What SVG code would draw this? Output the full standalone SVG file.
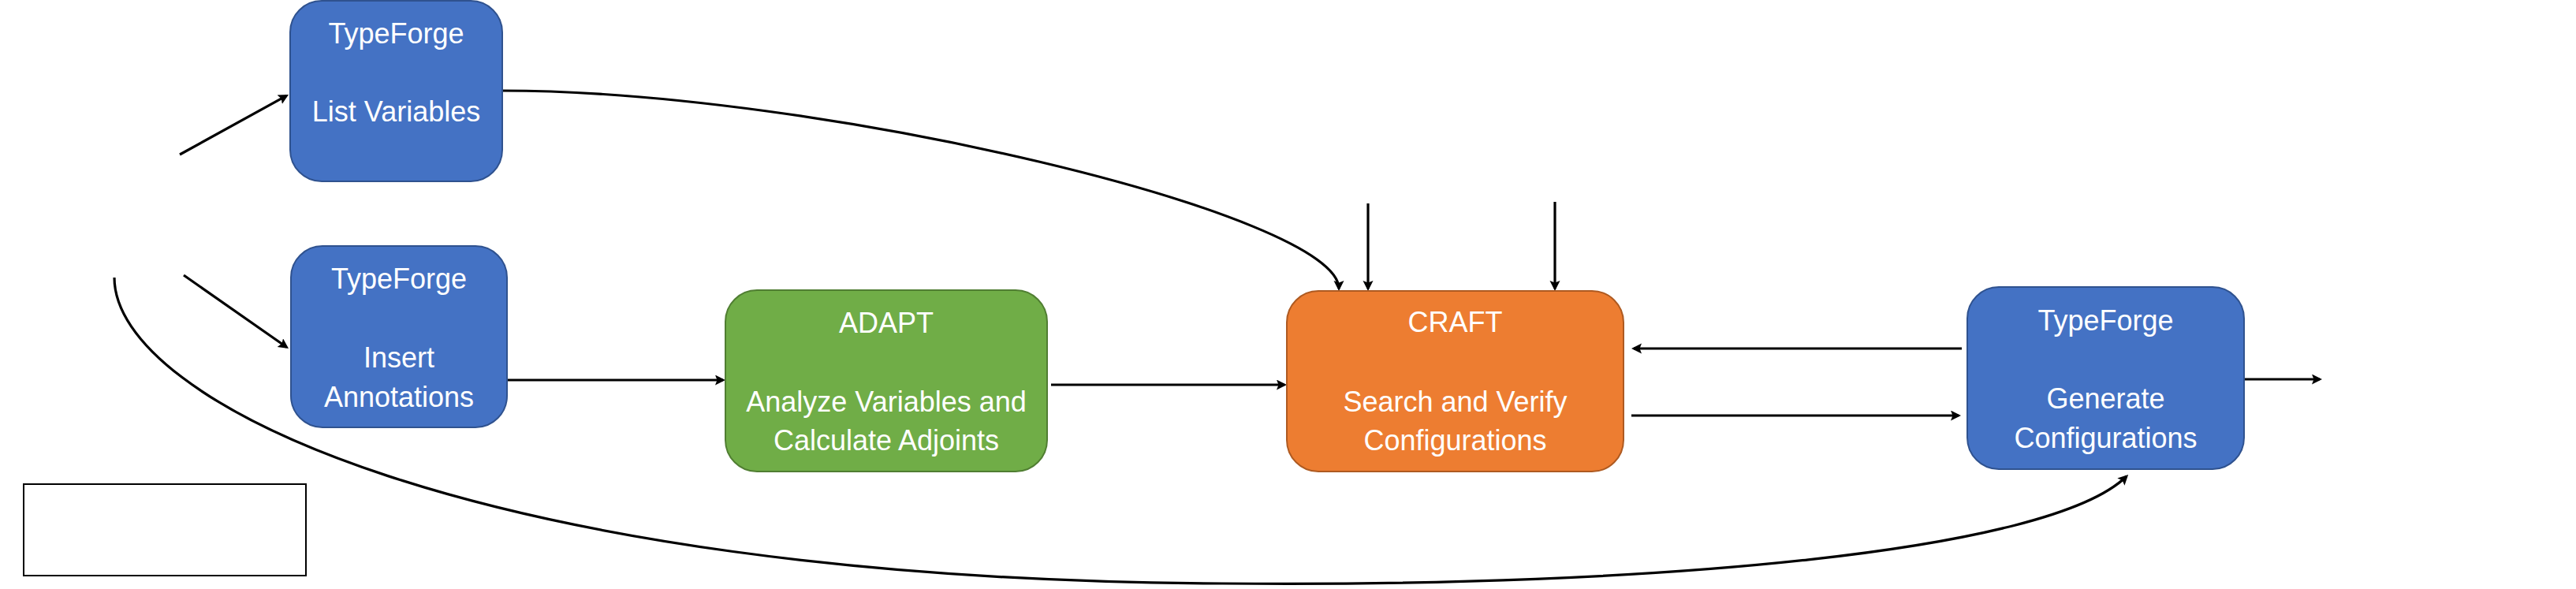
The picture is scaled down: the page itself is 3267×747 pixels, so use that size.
<svg xmlns="http://www.w3.org/2000/svg" width="3267" height="747" viewBox="0 0 3267 747">
<defs>
<style>
.blue{fill:#4472C4;stroke:#2F528F;stroke-width:2}
.green{fill:#70AD47;stroke:#507E32;stroke-width:2}
.orange{fill:#ED7D31;stroke:#AE5A21;stroke-width:2}
.lbl{font-family:"Liberation Sans",Arial,sans-serif;font-size:36px;fill:#FFFFFF;text-anchor:middle}
.conn{fill:none;stroke:#000000;stroke-width:3.2}
.arr{marker-end:url(#ah)}
</style>
<marker id="ah" markerUnits="userSpaceOnUse" markerWidth="16" markerHeight="14" refX="10" refY="6.5" orient="auto">
<path d="M0,0 L13,6.5 L0,13 L2.5,6.5 z" fill="#000000"/>
</marker>
</defs>
<rect width="3267" height="747" fill="#FFFFFF"/>
<g id="connectors">
<path class="conn arr" d="M228,196 L363.4,121.4"/>
<path class="conn arr" d="M233,349 L363.5,440.3"/>
<path class="conn arr" d="M643,482 L917,482"/>
<path class="conn arr" d="M1333,488 L1629,488"/>
<path class="conn arr" d="M1735,258 L1735,366"/>
<path class="conn arr" d="M1972,256 L1972,366"/>
<path class="conn arr" d="M637,115 C1040,115 1698,272 1698,366"/>
<path class="conn arr" d="M2488,442 L2072,442"/>
<path class="conn arr" d="M2069,527 L2484,527"/>
<path class="conn arr" d="M2846,481 L2942,481"/>
<path class="conn arr" d="M145,352 C145,510 600,735 1550,740 C2100,745 2600,700 2697,604"/>
</g>
<g id="empty-box">
<rect x="30" y="614" width="358" height="116" fill="#FFFFFF" stroke="#000000" stroke-width="2"/>
</g>
<g id="node-list-variables">
<rect class="blue" x="368" y="1" width="269" height="229" rx="40" ry="40"/>
<text class="lbl" x="502.5" y="55">TypeForge</text>
<text class="lbl" x="502.5" y="154">List Variables</text>
</g>
<g id="node-insert-annotations">
<rect class="blue" x="369" y="312" width="274" height="230" rx="40" ry="40"/>
<text class="lbl" x="506" y="366">TypeForge</text>
<text class="lbl" x="506" y="466">Insert</text>
<text class="lbl" x="506" y="516">Annotations</text>
</g>
<g id="node-adapt">
<rect class="green" x="920" y="368" width="408" height="230" rx="40" ry="40"/>
<text class="lbl" x="1124" y="422">ADAPT</text>
<text class="lbl" x="1124" y="522">Analyze Variables and</text>
<text class="lbl" x="1124" y="571">Calculate Adjoints</text>
</g>
<g id="node-craft">
<rect class="orange" x="1632" y="369" width="427" height="229" rx="40" ry="40"/>
<text class="lbl" x="1845.5" y="421">CRAFT</text>
<text class="lbl" x="1845.5" y="522">Search and Verify</text>
<text class="lbl" x="1845.5" y="571">Configurations</text>
</g>
<g id="node-generate-configurations">
<rect class="blue" x="2495" y="364" width="351" height="231" rx="40" ry="40"/>
<text class="lbl" x="2670.5" y="419">TypeForge</text>
<text class="lbl" x="2670.5" y="518">Generate</text>
<text class="lbl" x="2670.5" y="568">Configurations</text>
</g>
</svg>
